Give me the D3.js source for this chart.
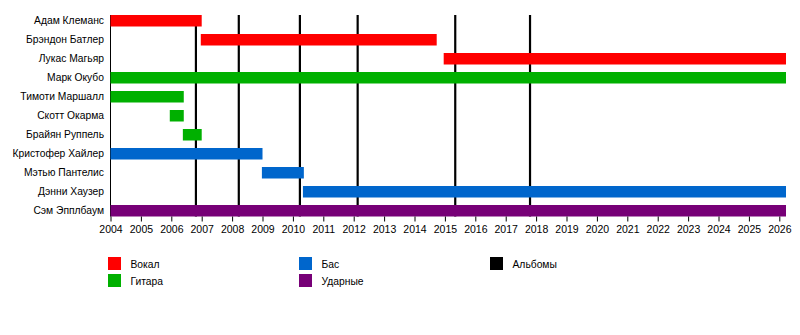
<!DOCTYPE html>
<html>
<head>
<meta charset="utf-8">
<script src="https://cdn.jsdelivr.net/npm/d3@7"></script>
<style>
  body { margin: 0; background: #fff; }
  text { font-family: "Liberation Sans", Arial, sans-serif; font-size: 10.3px; fill: #000; }
</style>
</head>
<body>
<svg id="chart" width="800" height="335"></svg>
<script>
// members, their roles and years of activity
const members = ["Адам Клеманс", "Брэндон Батлер", "Лукас Магьяр", "Марк Окубо", "Тимоти Маршалл",
  "Скотт Окарма", "Брайян Руппель", "Кристофер Хайлер", "Мэтью Пантелис", "Дэнни Хаузер", "Сэм Эпплбаум"];
const roles = ["vocal", "vocal", "vocal", "guitar", "guitar", "guitar", "guitar", "bass", "bass", "bass", "drums"];
const starts = [2004, 2006.97, 2014.96, 2004, 2004, 2005.95, 2006.38, 2004, 2008.98, 2010.33, 2004];
const ends = [2007.0, 2014.73, 2026.22, 2026.22, 2006.41, 2006.41, 2007.0, 2009.0, 2010.36, 2026.22, 2026.22];

const albums = [2006.81, 2008.22, 2010.23, 2012.13, 2015.34, 2017.8];

const years = d3.range(2004, 2027);

const roleKeys = ["vocal", "guitar", "bass", "drums", "albums"];
const roleNames = ["Вокал", "Гитара", "Бас", "Ударные", "Альбомы"];
const roleColors = ["#ff0000", "#00b000", "#0066cc", "#770077", "#000000"];

const svg = d3.select("#chart");

const margin = { top: 15, left: 110.5, right: 14, bottom: 120 };
const barPitch = 19;
const barH = 11.5;

const x = d3.scaleLinear()
  .domain([2004, 2026.22])
  .range([margin.left, 786]);

const y = d3.scaleBand()
  .domain(members)
  .range([margin.top, margin.top + barPitch * members.length]);

const color = d3.scaleOrdinal().domain(roleKeys).range(roleColors);

const bottom = margin.top + barPitch * (members.length - 1) + barH;

// album lines sit behind the bars
svg.append("g")
  .selectAll("line")
  .data(albums)
  .join("line")
  .attr("x1", d => x(d))
  .attr("x2", d => x(d))
  .attr("y1", margin.top)
  .attr("y2", bottom)
  .attr("stroke", "#000")
  .attr("stroke-width", 2.2);

// left border line
svg.append("line")
  .attr("x1", margin.left).attr("x2", margin.left)
  .attr("y1", margin.top).attr("y2", bottom)
  .attr("stroke", "#000");

const rows = members.map((m, i) => ({ name: m, role: roles[i], start: starts[i], end: ends[i] }));

svg.append("g")
  .selectAll("rect")
  .data(rows)
  .join("rect")
  .attr("x", d => x(d.start))
  .attr("y", d => y(d.name))
  .attr("width", d => x(d.end) - x(d.start))
  .attr("height", barH)
  .attr("fill", d => color(d.role));

// names
svg.append("g")
  .selectAll("text")
  .data(members)
  .join("text")
  .attr("x", 104)
  .attr("y", d => y(d) + barH / 2)
  .attr("dy", "0.35em")
  .attr("text-anchor", "end")
  .text(d => d);

// x axis
const axis = svg.append("g")
  .attr("transform", "translate(0," + bottom + ")")
  .call(d3.axisBottom(x).tickValues(years).tickFormat(d3.format("d")).tickSize(5).tickPadding(4));
axis.select(".domain").remove();
axis.selectAll("text").style("font-size", "10.5px").style("font-family", "Liberation Sans, Arial, sans-serif");

// legend
const legendPos = [[108, 257], [108, 274], [299, 257], [299, 274], [490, 257]];
const legend = svg.append("g")
  .selectAll("g")
  .data(roleKeys)
  .join("g")
  .attr("transform", (d, i) => "translate(" + legendPos[i][0] + "," + legendPos[i][1] + ")");

legend.append("rect")
  .attr("width", 13)
  .attr("height", 13)
  .attr("fill", d => color(d));

legend.append("text")
  .attr("x", 22.5)
  .attr("y", 7.5)
  .attr("dy", "0.35em")
  .text((d, i) => roleNames[i]);
</script>
</body>
</html>
